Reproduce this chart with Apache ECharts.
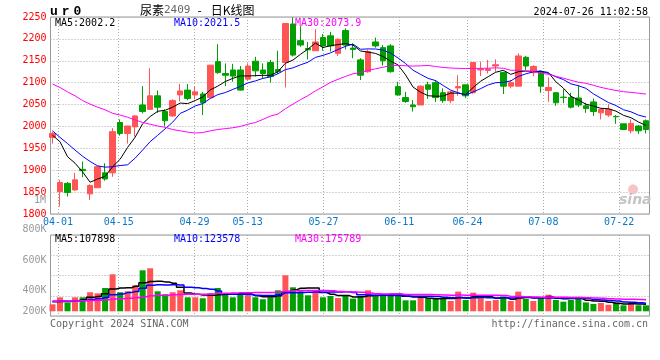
<!DOCTYPE html>
<html><head><meta charset="utf-8">
<script src="https://cdn.jsdelivr.net/npm/echarts@6/dist/echarts.min.js"></script>
<style>html,body{margin:0;padding:0;background:#fff}#c{width:660px;height:360px}</style>
</head><body><div id="c"></div>
<script>
// ---------- data ----------
const dates = ['03-29','04-01','04-02','04-03','04-08','04-09','04-10','04-11','04-12','04-15',
'04-16','04-17','04-18','04-19','04-22','04-23','04-24','04-25','04-26','04-29',
'04-30','05-06','05-07','05-08','05-09','05-10','05-13','05-14','05-15','05-16',
'05-17','05-20','05-21','05-22','05-23','05-24','05-27','05-28','05-29','05-30',
'05-31','06-03','06-04','06-05','06-06','06-07','06-11','06-12','06-13','06-14',
'06-17','06-18','06-19','06-20','06-21','06-24','06-25','06-26','06-27','06-28',
'07-01','07-02','07-03','07-04','07-05','07-08','07-09','07-10','07-11','07-12',
'07-15','07-16','07-17','07-18','07-19','07-22','07-23','07-24','07-25','07-26'];
const dateLabels = ['04-01','04-15','04-29','05-13','05-27','06-11','06-24','07-08','07-22'];

const open = [1975,1851,1870,1855,1902,1846,1860,1894,1894,2009,
1984,1999,2049,2039,2070,2034,2024,2072,2083,2072,
2074,2066,2148,2121,2129,2129,2108,2149,2129,2146,
2130,2146,2234,2196,2178,2173,2203,2207,2167,2219,
2179,2152,2125,2193,2180,2184,2091,2066,2049,2049,
2095,2100,2077,2059,2088,2095,2077,2129,2128,2138,
2123,2092,2092,2158,2123,2125,2082,2077,2067,2066,
2065,2047,2056,2031,2026,2023,2006,1990,2001,2013];
const close = [1984,1872,1849,1878,1899,1865,1908,1880,1988,1984,
2001,2024,2034,2070,2044,2013,2059,2081,2064,2079,
2054,2140,2123,2117,2115,2083,2138,2127,2121,2114,
2125,2235,2163,2186,2175,2193,2184,2184,2199,2186,
2176,2117,2171,2184,2150,2125,2072,2057,2045,2092,
2085,2066,2059,2079,2091,2070,2146,2131,2131,2141,
2092,2100,2161,2138,2137,2092,2089,2054,2066,2044,
2049,2041,2034,2039,2039,2022,1993,2007,1990,1993];
const low = [1961,1817,1840,1853,1884,1832,1859,1876,1885,1979,
1961,1977,2030,2038,2031,2000,2022,2057,2060,2062,
2026,2064,2120,2092,2102,2082,2105,2114,2110,2100,
2120,2089,2160,2182,2153,2173,2173,2171,2161,2176,
2156,2106,2123,2180,2139,2123,2070,2054,2034,2049,
2063,2056,2054,2053,2070,2065,2075,2115,2121,2125,
2074,2087,2092,2129,2115,2077,2056,2047,2053,2041,
2044,2031,2024,2016,2022,2006,1992,1984,1983,1984];
const high = [1988,1878,1873,1894,1920,1868,1910,1916,1996,2016,
2001,2026,2092,2133,2082,2039,2062,2097,2097,2091,
2079,2140,2188,2144,2143,2138,2144,2159,2144,2152,
2173,2236,2249,2229,2193,2222,2211,2216,2201,2224,
2190,2156,2175,2203,2186,2188,2102,2079,2060,2094,
2102,2106,2087,2082,2117,2095,2146,2148,2152,2153,
2125,2106,2167,2161,2140,2127,2112,2079,2085,2077,
2094,2054,2064,2041,2051,2026,2006,2016,2003,2016];

const ma5 = [1980,1965,1931,1916,1896.4,1872.6,1879.8,1886,1908,1925,
1952.2,1975.4,2006.2,2022.6,2034.6,2037,2044,2053.4,2052.2,2059.2,
2067.4,2083.6,2092,2102.6,2109.8,2115.6,2115.2,2116,2116.8,2116.6,
2125,2144.4,2151.6,2164.6,2176.8,2190.4,2180.2,2184.4,2187,2189.2,
2185.8,2172.4,2169.8,2166.8,2159.6,2149.4,2140.4,2117.6,2089.8,2078.2,
2070.2,2069,2069.4,2076.2,2076,2073,2089,2103.4,2113.8,2123.8,
2128.2,2119,2125,2126.4,2125.6,2125.6,2123.4,2102,2087.6,2069,
2060.4,2050.8,2046.8,2041.4,2040.4,2035,2025.4,2020,2010.2,2002.2];
const ma10 = [1990,1975,1961,1946,1932,1920,1910,1907,1908,1910.7,
1912.4,1927.6,1946.1,1965.3,1979.8,1994.6,2009.7,2029.8,2037.4,2046.9,
2052.2,2063.8,2072.7,2077.4,2084.5,2091.5,2099.4,2104,2109.7,2113.2,
2120.3,2129.8,2133.8,2140.7,2146.7,2157.7,2162.3,2168,2175.8,2183,
2188.1,2176.3,2177.1,2176.9,2174.4,2167.6,2156.4,2143.7,2128.3,2118.9,
2109.8,2104.7,2093.5,2083,2077.1,2071.6,2079,2086.4,2095,2099.9,
2100.6,2104,2114.2,2120.1,2124.7,2126.9,2121.2,2113.5,2107,2097.3,
2093,2087.1,2074.4,2064.5,2054.7,2047.7,2038.1,2033.4,2025.8,2021.5];
const ma30 = [2097,2089,2079,2070,2059,2051,2044,2038,2030,2026,
2021,2015,2009,2005,2001,1998,1993,1990,1987,1985,
1986,1990,1993,1995,1997,2000,2005,2009,2016,2023.6,
2028.3,2040.4,2050.9,2061.1,2070.3,2081.3,2090.5,2100.6,2107.6,2114.4,
2120.2,2123.3,2127.9,2131.7,2135.2,2138.9,2139.4,2138.6,2137.9,2138.4,
2139.4,2136.9,2134.8,2133.5,2132.7,2132.3,2132.6,2132.7,2133,2133.9,
2132.8,2128.3,2128.3,2126.7,2125.4,2122,2118.9,2114.5,2110.1,2105.4,
2101.1,2098.6,2094,2089.2,2085.5,2082.1,2079.4,2077.8,2075.9,2073.9];

const volume = [107000,214000,133000,214000,214000,291000,275000,356000,566000,291000,
306000,398000,627000,658000,306000,260000,291000,321000,214000,214000,
199000,275000,356000,260000,214000,260000,245000,214000,184000,214000,
321000,551000,367000,306000,245000,306000,214000,234000,203000,245000,
194000,234000,321000,234000,260000,260000,234000,168000,168000,234000,
201000,190000,190000,158000,301000,174000,285000,201000,158000,174000,
227000,158000,301000,190000,158000,221000,254000,174000,147000,174000,
220000,136000,113000,128000,100000,132000,91000,133000,92000,91000];
const vma5 = [145000,150000,150000,163000,176000,213000,225000,270000,340000,356000,
359000,383000,438000,456000,459000,450000,428000,367000,278000,260000,
248000,245000,252000,261000,261000,273000,267000,239000,223000,223000,
236000,297000,327000,352000,358000,355000,288000,261000,240000,240000,
218000,222000,239000,246000,249000,262000,262000,231000,218000,213000,
201000,192000,197000,195000,208000,203000,222000,224000,224000,198000,
209000,184000,204000,210000,207000,206000,225000,199000,191000,194000,
194000,170000,158000,154000,139000,122000,113000,117000,110000,107898];
const vma10 = [152000,158000,155000,161000,167000,180000,192000,212000,253000,266000,
286000,304000,354000,398000,407000,404000,406000,402000,367000,360000,
349000,337000,309000,270000,260000,260000,256000,245000,242000,242000,
254000,282000,283000,288000,291000,295000,292000,294000,296000,299000,
287000,255000,250000,243000,245000,240000,242000,235000,232000,231000,
231000,227000,214000,206000,210000,202000,207000,210000,209000,203000,
206000,203000,214000,217000,203000,207000,204000,202000,200000,200000,
200000,198000,179000,173000,167000,158000,142000,137000,132000,123578];
const vma30 = [155000,157000,156000,158000,160000,165000,169000,175000,189000,193000,
198000,206000,222000,239000,244000,247000,252000,257000,259000,261000,
262000,266000,273000,276000,278000,282000,285000,286000,287000,289000,
296000,308000,315000,318000,320000,320000,318000,314000,302000,300000,
297000,291000,281000,267000,265000,265000,263000,258000,257000,257000,
257000,255000,249000,246000,249000,246000,247000,247000,246000,244000,
241000,228000,226000,222000,219000,216000,218000,216000,214000,211000,
212000,209000,202000,199000,193000,189000,184000,183000,181000,175789];

const priceMin = 1800, priceMax = 2250, priceStep = 50;
const volTickLabels = ['200K','','400K','','','600K','','','800K'];
const volMax = 1167000;

// ---------- chart ----------
const RED = '#ff5555', GREEN = '#00a000';
const MONO = '"DejaVu Sans Mono","Liberation Mono",monospace';
const labelSet = new Set(dateLabels);
const pick = (i) => labelSet.has(dates[i]);
const dotted = { color: '#aaaaaa', type: [1, 2], width: 1 };
const last = a => a[a.length - 1];

const chart = echarts.init(document.getElementById('c'), null, { width: 660, height: 360 });

function txt(x, y, text, color, align, font) {
  return { type: 'text', x: x, y: y, silent: true, z: 50,
    style: { text: text, fill: color, font: font || ('10px ' + MONO),
      align: align || 'left', verticalAlign: 'middle', textAlign: align || 'left', textVerticalAlign: 'middle' } };
}

const option = {
  animation: false,
  grid: [
    { left: 52.5, width: 593.5, top: 17, height: 197 },
    { left: 50.5, width: 599, top: 17, height: 197, show: true, borderColor: '#999', borderWidth: 1, backgroundColor: 'transparent' },
    { left: 52.5, width: 593.5, top: 235, height: 76.3 },
    { left: 50.5, width: 599, top: 235, height: 81, show: true, borderColor: '#999', borderWidth: 1, backgroundColor: 'transparent' },
    { left: 50.5, width: 599, top: 229.4, height: 81.6 }
  ],
  xAxis: [
    { type: 'category', gridIndex: 0, data: dates, boundaryGap: false, show: false },
    { type: 'category', gridIndex: 1, data: dates, boundaryGap: false,
      axisLine: { show: false }, axisTick: { show: false },
      axisLabel: { interval: pick, color: '#0a78c8', fontFamily: MONO, fontSize: 10, margin: 3 },
      splitLine: { show: true, interval: pick, lineStyle: dotted } },
    { type: 'category', gridIndex: 2, data: dates, boundaryGap: false, show: false },
    { type: 'category', gridIndex: 3, data: dates, boundaryGap: false,
      axisLine: { show: false }, axisTick: { show: false }, axisLabel: { show: false },
      splitLine: { show: true, interval: pick, lineStyle: dotted } },
    { type: 'value', gridIndex: 4, show: false }
  ],
  yAxis: [
    { type: 'value', gridIndex: 0, min: priceMin, max: priceMax, show: false },
    { type: 'value', gridIndex: 1, min: priceMin, max: priceMax, interval: priceStep,
      axisLine: { show: false }, axisTick: { show: false },
      axisLabel: { color: '#ff0000', fontFamily: MONO, fontSize: 10, margin: 4, formatter: v => String(v) },
      splitLine: { show: true, lineStyle: dotted } },
    { type: 'value', gridIndex: 2, min: 0, max: volMax, show: false },
    { type: 'value', gridIndex: 3, min: 0, max: 4, interval: 1,
      axisLine: { show: false }, axisTick: { show: false }, axisLabel: { show: false },
      splitLine: { show: true, lineStyle: dotted } },
    { type: 'category', gridIndex: 4, data: volTickLabels, boundaryGap: false,
      axisLine: { show: false }, axisTick: { show: false }, splitLine: { show: false },
      axisLabel: { interval: 0, color: '#999', fontFamily: MONO, fontSize: 10, margin: 4 } }
  ],
  series: [
    { type: 'candlestick', xAxisIndex: 0, yAxisIndex: 0, clip: false, barWidth: 6,
      data: dates.map((d, i) => [open[i], close[i], low[i], high[i]]),
      itemStyle: { color: RED, color0: GREEN, borderColor: RED, borderColor0: GREEN, borderWidth: 1 } },
    { type: 'line', xAxisIndex: 0, yAxisIndex: 0, data: ma5, symbol: 'none', silent: true, z: 5, lineStyle: { color: '#000', width: 1 } },
    { type: 'line', xAxisIndex: 0, yAxisIndex: 0, data: ma10, symbol: 'none', silent: true, z: 5, lineStyle: { color: '#0000ff', width: 1 } },
    { type: 'line', xAxisIndex: 0, yAxisIndex: 0, data: ma30, symbol: 'none', silent: true, z: 5, lineStyle: { color: '#ff00ff', width: 1 } },
    { type: 'bar', xAxisIndex: 2, yAxisIndex: 2, clip: false, barWidth: 6, data: volume,
      itemStyle: { color: p => close[p.dataIndex] >= open[p.dataIndex] ? RED : GREEN } },
    { type: 'line', xAxisIndex: 2, yAxisIndex: 2, data: vma5, step: 'middle', symbol: 'none', silent: true, z: 5, lineStyle: { color: '#000', width: 1.5 } },
    { type: 'line', xAxisIndex: 2, yAxisIndex: 2, data: vma10, step: 'middle', symbol: 'none', silent: true, z: 5, lineStyle: { color: '#0000ff', width: 1.5 } },
    { type: 'line', xAxisIndex: 2, yAxisIndex: 2, data: vma30, step: 'middle', symbol: 'none', silent: true, z: 5, lineStyle: { color: '#ff00ff', width: 1.5 } }
  ],
  graphic: [
    { type: 'text', x: 50, y: 11.5, silent: true, z: 50,
      style: { text: '{a|u}{a|r}{a|0}', verticalAlign: 'middle', textVerticalAlign: 'middle',
        rich: { a: { font: 'bold 13px "Liberation Mono"', fill: '#000', padding: [0, 4, 0, 0] } } } },
    { type: 'text', x: 140, y: 10.5, silent: true, z: 50,
      style: { text: '{a|尿素}{b|2409}{c|-}{a|日K线图}', verticalAlign: 'middle', textVerticalAlign: 'middle',
        rich: { a: { font: '12px "Noto Sans CJK SC"', fill: '#000' },
                b: { font: '11px ' + MONO, fill: '#666' },
                c: { font: '12px "Noto Sans CJK SC"', fill: '#000', padding: [0, 9, 0, 7] } } } },
    txt(648, 12, '2024-07-26 11:02:58', '#000', 'right'),
    txt(55, 23.7, 'MA5:' + last(ma5).toFixed(1), '#000'),
    txt(174, 23.7, 'MA10:' + last(ma10).toFixed(1), '#0000ff'),
    txt(295, 23.7, 'MA30:' + last(ma30).toFixed(1), '#ff00ff'),
    txt(46, 200.3, '1M', '#999', 'right'),
    txt(55, 239, 'MA5:' + last(vma5), '#000'),
    txt(174, 239, 'MA10:' + last(vma10), '#0000ff'),
    txt(295, 239, 'MA30:' + last(vma30), '#ff00ff'),
    txt(50, 324, 'Copyright 2024 SINA.COM', '#666'),
    txt(648, 324, 'http://finance.sina.com.cn', '#666', 'right'),
    { type: 'circle', silent: true, z: 1, shape: { cx: 633, cy: 189.5, r: 5 }, style: { fill: '#f6c4c4' } },
    txt(619, 200, 'sina', '#c4c4c4', 'left', 'italic bold 14px "DejaVu Sans"')
  ]
};
chart.setOption(option);
</script>
</body></html>
